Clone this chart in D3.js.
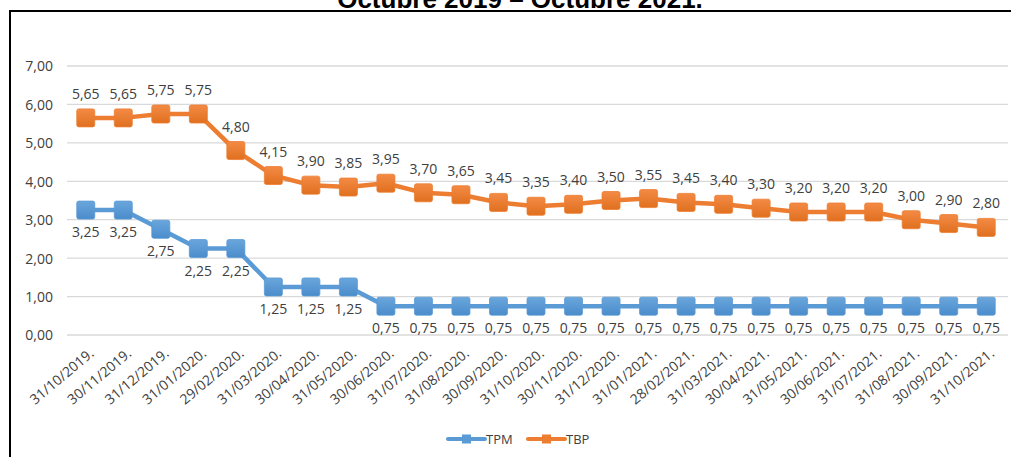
<!DOCTYPE html>
<html>
<head>
<meta charset="utf-8">
<script src="https://cdn.jsdelivr.net/npm/d3@7"></script>
<style>
  body { margin: 0; background: #fff; }
  svg { display: block; }
  .lbl { font-family: 'Open Sans', sans-serif; font-size: 14px; fill: #404040; }
  .xlbl { font-family: 'Open Sans', sans-serif; font-size: 14px; fill: #404040; }
</style>
</head>
<body>
<div id="chart"></div>
<script>
const fechas = ['31/10/2019.', '30/11/2019.', '31/12/2019.', '31/01/2020.', '29/02/2020.', '31/03/2020.',
  '30/04/2020.', '31/05/2020.', '30/06/2020.', '31/07/2020.', '31/08/2020.', '30/09/2020.',
  '31/10/2020.', '30/11/2020.', '31/12/2020.', '31/01/2021.', '28/02/2021.', '31/03/2021.',
  '30/04/2021.', '31/05/2021.', '30/06/2021.', '31/07/2021.', '31/08/2021.', '30/09/2021.', '31/10/2021.']
const tpm = [3.25, 3.25, 2.75, 2.25, 2.25, 1.25, 1.25, 1.25, 0.75, 0.75, 0.75, 0.75, 0.75,
  0.75, 0.75, 0.75, 0.75, 0.75, 0.75, 0.75, 0.75, 0.75, 0.75, 0.75, 0.75]
const tbp = [5.65, 5.65, 5.75, 5.75, 4.80, 4.15, 3.90, 3.85, 3.95, 3.70, 3.65, 3.45, 3.35,
  3.40, 3.50, 3.55, 3.45, 3.40, 3.30, 3.20, 3.20, 3.20, 3.00, 2.90, 2.80]
const yTicks = [0, 1, 2, 3, 4, 5, 6, 7]

const width = 1011
const height = 457
const fmt = (n) => n.toFixed(2).replace('.', ',')

const svg = d3.select('#chart').append('svg')
    .attr('width', width)
    .attr('height', height)

// gradients for the square markers
const defs = svg.append('defs')
const addGrad = (id, light, base) => {
    const g = defs.append('linearGradient').attr('id', id)
        .attr('x1', 0).attr('y1', 0).attr('x2', 0).attr('y2', 1)
    g.append('stop').attr('offset', '0%').attr('stop-color', light)
    g.append('stop').attr('offset', '100%').attr('stop-color', base)
}
addGrad('gBlue', '#6aa6dc', '#4a8ccb')
addGrad('gOrange', '#f38a45', '#e0701f')

// title (cut at top, as in the source) and frame
svg.append('text')
    .text('Octubre 2019 – Octubre 2021.')
    .attr('x', 520)
    .attr('y', 8)
    .attr('text-anchor', 'middle')
    .style('font-family', "'Liberation Sans', Arial, sans-serif")
    .style('font-weight', 'bold')
    .style('font-size', '26px')
    .attr('fill', '#000')

svg.append('path')
    .attr('d', `M10,${height + 2} V11 H${width + 2}`)
    .attr('fill', 'none')
    .attr('stroke', '#000')
    .attr('stroke-width', 2)

const xScale = d3.scaleBand()
    .domain(fechas)
    .range([67, 1005])

const yScale = d3.scaleLinear()
    .domain([0, 7])
    .range([335, 66])

const cx = (i) => xScale(fechas[i]) + xScale.bandwidth() / 2

// gridlines
svg.append('g').selectAll('line')
    .data(yTicks)
    .enter()
    .append('line')
    .attr('x1', 67)
    .attr('x2', 1008)
    .attr('y1', d => yScale(d))
    .attr('y2', d => yScale(d))
    .attr('stroke', '#d9d9d9')
    .attr('stroke-width', 1.3)

const yAxis = d3.axisLeft(yScale)
    .tickValues(yTicks)
    .tickFormat(fmt)
    .tickSize(0)
    .tickPadding(0)

svg.append('g')
    .attr('transform', 'translate(53, 0)')
    .call(yAxis)
    .call(g => g.select('.domain').remove())
    .selectAll('text')
    .attr('class', 'lbl')
    .attr('dy', '0.35em')
    .attr('font-size', null)
    .attr('font-family', null)

// x labels, rotated
svg.append('g').selectAll('text')
    .data(fechas)
    .enter()
    .append('text')
    .attr('class', 'xlbl')
    .attr('text-anchor', 'end')
    .attr('transform', (d, i) => `translate(${cx(i) + 9}, 355) rotate(-40)`)
    .text(d => d)

const line = d3.line()
    .x((d, i) => cx(i))
    .y(d => yScale(d))

const series = [
    { name: 'TPM', values: tpm, color: '#5b9bd5', grad: 'url(#gBlue)', dy: 27 },
    { name: 'TBP', values: tbp, color: '#ed7d31', grad: 'url(#gOrange)', dy: -19 }
]

series.forEach(s => {
    const g = svg.append('g')
    g.append('path')
        .datum(s.values)
        .attr('d', line)
        .attr('fill', 'none')
        .attr('stroke', s.color)
        .attr('stroke-width', 4.5)
        .attr('stroke-linejoin', 'round')

    g.selectAll('rect')
        .data(s.values)
        .enter()
        .append('rect')
        .attr('x', (d, i) => cx(i) - 9)
        .attr('y', d => yScale(d) - 9)
        .attr('width', 18)
        .attr('height', 18)
        .attr('rx', 2)
        .attr('fill', s.grad)
        .attr('stroke', s.color)
        .attr('stroke-width', 0.8)

    g.selectAll('text')
        .data(s.values)
        .enter()
        .append('text')
        .attr('class', 'lbl')
        .attr('text-anchor', 'middle')
        .attr('x', (d, i) => cx(i))
        .attr('y', d => yScale(d) + s.dy)
        .text(d => fmt(d))
})

// legend
const legend = svg.append('g')
const legendX = [448, 528]
series.forEach((s, i) => {
    const x0 = legendX[i]
    legend.append('line')
        .attr('x1', x0).attr('x2', x0 + 37)
        .attr('y1', 439).attr('y2', 439)
        .attr('stroke', s.color)
        .attr('stroke-width', 4)
        .attr('stroke-linecap', 'round')
    legend.append('rect')
        .attr('x', x0 + 18.5 - 4.5).attr('y', 434.5)
        .attr('width', 9).attr('height', 9)
        .attr('fill', s.color)
    legend.append('text')
        .attr('class', 'lbl')
        .attr('x', x0 + 38)
        .attr('y', 444)
        .style('font-size', '13px')
        .text(s.name)
})
</script>
</body>
</html>
